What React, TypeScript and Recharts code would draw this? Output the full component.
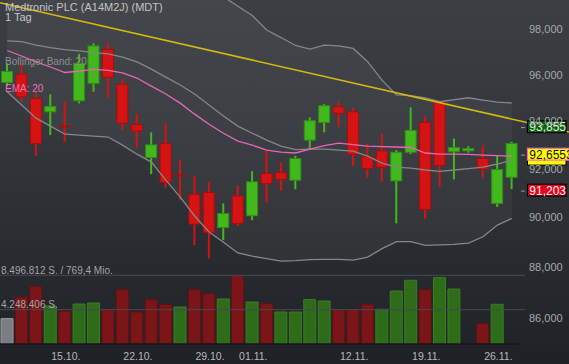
import React from 'react';
import { ComposedChart, Bar, Line, Area, XAxis, YAxis, ReferenceLine, Cell } from 'recharts';

const FONT = '"Liberation Sans", Arial, sans-serif';

const dates = ['09.10.','10.10.','11.10.','12.10.','15.10.','16.10.','17.10.','18.10.','19.10.','22.10.','23.10.','24.10.','25.10.','26.10.','29.10.','30.10.','31.10.','01.11.','02.11.','05.11.','06.11.','07.11.','08.11.','09.11.','12.11.','13.11.','14.11.','15.11.','16.11.','19.11.','20.11.','21.11.','22.11.','23.11.','26.11.','27.11.'];

const opens = [95.66,96.02,94.97,94.40,93.80,94.87,95.62,97.10,95.58,93.86,92.47,93.06,91.74,90.95,91.02,89.59,90.88,90.07,91.81,91.85,91.53,93.20,93.95,94.61,94.40,92.50,92.75,91.50,92.69,93.95,94.80,92.71,92.75,92.43,90.57,91.65];
const highs = [96.49,96.49,95.26,95.15,94.83,96.90,97.37,97.41,95.79,94.33,93.53,93.91,92.39,91.69,91.46,90.57,91.32,91.90,92.78,92.27,92.54,94.16,94.73,94.83,94.57,93.06,93.48,92.78,94.59,94.22,94.87,93.27,92.95,92.99,92.57,93.13];
const lows = [95.50,94.83,92.53,93.41,93.13,94.76,95.26,94.97,93.62,92.89,91.78,91.19,90.71,88.88,88.35,89.08,89.65,89.89,90.60,91.09,91.15,92.85,93.53,93.76,92.12,91.64,91.46,89.76,92.61,89.94,91.25,91.56,92.67,91.64,90.43,91.16];
const closes = [96.14,95.04,93.06,94.63,93.76,96.49,97.25,95.88,93.91,93.58,93.00,91.44,91.71,89.73,89.39,90.16,89.76,91.46,91.39,91.56,92.43,94.02,94.66,94.33,92.60,92.01,92.06,92.69,93.61,90.33,92.14,92.89,92.85,91.99,91.97,93.06];

const volumes = [3140000,5810000,7140000,4700000,4040000,4950000,5070000,4250000,6730000,3960000,5490000,4870000,4580000,6730000,6230000,5570000,8496812,5190000,5000000,3960000,3960000,5490000,5320000,4250000,4250000,4910000,4290000,6560000,7880000,6730000,8210000,6800000,null,2520000,4910000,null];
const volumeDir = ['n','d','d','u','d','u','u','d','d','d','d','d','u','d','d','u','d','u','d','u','u','u','u','d','d','d','u','u','u','d','u','u','n','d','u','n'];

const bbUpper = [99.68,100.19,100.45,100.57,100.73,100.65,100.55,100.47,100.53,100.49,100.2,100.25,100.27,100.26,99.97,99.44,99.01,98.60,97.95,97.62,97.27,97.11,97.29,97.25,97.14,96.56,95.76,95.12,95.09,94.99,94.83,94.92,95.00,94.90,94.81,94.78];
const bbMiddle = [97.47,97.44,97.29,97.18,97.09,97.03,96.96,96.90,96.76,96.55,96.24,95.89,95.55,95.16,94.69,94.22,93.79,93.49,93.20,92.95,92.80,92.82,92.82,92.78,92.74,92.53,92.24,92.07,92.03,91.95,91.89,91.95,92.01,92.07,92.20,92.36];
const bbLower = [95.26,94.69,94.13,93.79,93.45,93.41,93.37,93.33,92.99,92.61,92.28,91.53,90.83,90.06,89.41,89.00,88.57,88.44,88.34,88.24,88.26,88.30,88.31,88.31,88.28,88.40,88.74,89.02,89.02,88.87,88.89,88.91,88.96,89.22,89.69,89.96];
const ema20 = [97.05,96.81,96.55,96.33,96.09,96.15,96.23,96.18,96.07,95.85,95.50,95.16,94.77,94.30,93.87,93.49,93.16,92.99,92.78,92.70,92.66,92.82,92.97,93.07,93.01,92.95,92.93,92.91,92.89,92.66,92.61,92.61,92.60,92.57,92.55,92.53];

const priceTicks = [86, 88, 90, 92, 94, 96, 98];
const dateTicks = [4, 9, 14, 17, 24, 29, 34];
const trendStart = { x: -0.5, y: 99.17 };
const trendEnd = { x: 38.97, y: 93.54 };
const volumeMax = 8496812;
const volumeHalf = 4248406;
const tagTrend = 93.855;
const tagEma = 92.6553;
const tagLast = 91.203;

const data = dates.map((d, i) => ({
  i,
  date: d,
  open: opens[i],
  high: highs[i],
  low: lows[i],
  close: closes[i],
  range: [lows[i], highs[i]],
  vol: volumes[i],
  dir: volumeDir[i],
  upper: bbUpper[i],
  middle: bbMiddle[i],
  lower: bbLower[i],
  band: [bbLower[i], bbUpper[i]],
  ema: ema20[i],
}));

const Candle = (props: any) => {
  const { x, y, width, height, payload } = props;
  if (!payload || x == null || y == null) return null;
  const top0 = Math.min(y, y + height);
  const h = Math.abs(height);
  const { open, close, high, low } = payload;
  const up = close >= open;
  const lnH = Math.log(high);
  const lnL = Math.log(low);
  const py = (v: number) => top0 + (h * (lnH - Math.log(v))) / (lnH - lnL);
  const cx = x + width / 2;
  const bt = py(Math.max(open, close));
  const bb = py(Math.min(open, close));
  const fill = up ? '#42b81c' : '#d51313';
  const stroke = up ? '#2f8d14' : '#a50e0e';
  return (
    <g>
      <line x1={cx} x2={cx} y1={top0} y2={top0 + h} stroke={fill} strokeWidth={2} />
      <rect x={x + 0.5} y={bt} width={width - 1} height={Math.max(bb - bt, 1)} fill={fill} stroke={stroke} strokeWidth={1} />
    </g>
  );
};

const PriceTick = (props: any) => {
  const { y, payload } = props;
  return (
    <text x={529} y={y} dy="0.36em" fontSize={11} fill="#a8a8a8" fontFamily={FONT}>
      {Number(payload.value).toFixed(3).replace('.', ',')}
    </text>
  );
};

const DateTick = (props: any) => {
  const { x, payload } = props;
  return (
    <text x={x + 1} y={360} textAnchor="middle" fontSize={10.5} fill="#b8b8b8" fontFamily={FONT}>
      {dates[payload.value]}
    </text>
  );
};

const PriceTag = (props: any) => {
  const { viewBox, text, fill, border, color, width, extra, dyBox } = props;
  if (!viewBox) return null;
  const cy = viewBox.y + (dyBox || 0);
  return (
    <g>
      <line x1={521} x2={525} y1={cy + 1} y2={cy + 1} stroke="#9a9a9a" strokeWidth={1} />
      {extra ? <rect x={527.5} y={cy - 1} width={38.5} height={12} fill="#ffff00" stroke="#000" strokeWidth={1} /> : null}
      <rect x={527.5} y={cy - 5.8} width={width} height={11.8} fill={fill} stroke={border} strokeWidth={1.2} />
      <text x={529.3} y={cy} dy="0.37em" fontSize={12} fill={color} fontFamily={FONT}>{text}</text>
    </g>
  );
};

export default function App() {
  return (
    <div
      style={{
        position: 'absolute',
        left: 0,
        top: 0,
        width: 569,
        height: 364,
        overflow: 'hidden',
        background: 'linear-gradient(180deg, #3b3e43 0%, #34373c 35%, #282b2f 70%, #1e2125 100%)',
        fontFamily: FONT,
      }}
    >
      <ComposedChart width={569} height={364} data={data} margin={{ top: 0, right: 0, bottom: 0, left: 0 }}>
        <XAxis
          xAxisId="x"
          dataKey="i"
          type="number"
          domain={[-0.5, 35.5]}
          allowDataOverflow
          ticks={dateTicks}
          interval={0}
          height={20}
          axisLine={false}
          tickLine={false}
          tick={<DateTick />}
        />
        <XAxis xAxisId="c" dataKey="i" type="number" domain={[-0.5, 35.5]} allowDataOverflow hide />
        <YAxis
          yAxisId="p"
          orientation="right"
          type="number"
          scale="log"
          domain={[85, 99.29]}
          allowDataOverflow
          ticks={priceTicks}
          interval={0}
          width={50}
          axisLine={false}
          tickLine={false}
          tick={<PriceTick />}
        />
        <YAxis yAxisId="v" type="number" domain={[0, 42550000]} allowDataOverflow hide />

        <Area
          xAxisId="x"
          yAxisId="p"
          dataKey="band"
          type="linear"
          stroke="none"
          fill="#ffffff"
          fillOpacity={0.045}
          isAnimationActive={false}
          dot={false}
          activeDot={false}
        />

        <ReferenceLine
          xAxisId="x"
          yAxisId="v"
          segment={[{ x: -0.5, y: volumeMax }, { x: 35.92, y: volumeMax }]}
          stroke="#474a50"
          strokeWidth={1}
          ifOverflow="visible"
        />
        <ReferenceLine
          xAxisId="x"
          yAxisId="v"
          segment={[{ x: -0.5, y: volumeHalf }, { x: 35.92, y: volumeHalf }]}
          stroke="#474a50"
          strokeWidth={1}
          ifOverflow="visible"
        />

        <Bar xAxisId="x" yAxisId="v" dataKey="vol" barSize={12} isAnimationActive={false}>
          {data.map((d, i) => (
            <Cell
              key={i}
              fill={d.dir === 'u' ? '#2e6c19' : d.dir === 'd' ? '#7c1518' : '#7b7d80'}
              stroke={d.dir === 'u' ? '#3a7e22' : d.dir === 'd' ? '#651113' : '#9a9ca0'}
              strokeWidth={1}
            />
          ))}
        </Bar>

        <ReferenceLine xAxisId="x" yAxisId="v" y={0} stroke="#15171a" strokeWidth={1.5} />

        <Line xAxisId="x" yAxisId="p" dataKey="upper" stroke="#868686" strokeWidth={1.3} dot={false} activeDot={false} isAnimationActive={false} />
        <Line xAxisId="x" yAxisId="p" dataKey="middle" stroke="#868686" strokeWidth={1.3} dot={false} activeDot={false} isAnimationActive={false} />
        <Line xAxisId="x" yAxisId="p" dataKey="lower" stroke="#868686" strokeWidth={1.3} dot={false} activeDot={false} isAnimationActive={false} />
        <Line xAxisId="x" yAxisId="p" dataKey="ema" stroke="#ea66b2" strokeWidth={1.3} dot={false} activeDot={false} isAnimationActive={false} />

        <Bar xAxisId="c" yAxisId="p" dataKey="range" barSize={12} shape={<Candle />} isAnimationActive={false} />

        <ReferenceLine
          xAxisId="x"
          yAxisId="p"
          segment={[trendStart, trendEnd]}
          stroke="#d9b80e"
          strokeWidth={1.5}
          ifOverflow="visible"
        />

        <ReferenceLine
          xAxisId="x"
          yAxisId="p"
          y={tagTrend}
          stroke="none"
          label={<PriceTag text="93,855" fill="#0b620b" border="#000" color="#ececec" width={38.5} dyBox={2} />}
        />
        <ReferenceLine
          xAxisId="x"
          yAxisId="p"
          y={tagEma}
          stroke="none"
          label={<PriceTag text="92,6553" fill="#ffff00" border="#ff66cc" color="#111" width={41.5} extra dyBox={1} />}
        />
        <ReferenceLine
          xAxisId="x"
          yAxisId="p"
          y={tagLast}
          stroke="none"
          label={<PriceTag text="91,203" fill="#e6001c" border="#000" color="#f4f4f4" width={38.5} dyBox={2} />}
        />
      </ComposedChart>

      <svg width={569} height={364} style={{ position: 'absolute', left: 0, top: 0, pointerEvents: 'none' }}>
        <text x={5} y={10.5} fontSize={11} fill="#c4c4c4" fontFamily={FONT}>Medtronic PLC (A14M2J) (MDT)</text>
        <text x={5} y={20.5} fontSize={11} fill="#c4c4c4" fontFamily={FONT}>1 Tag</text>
        <text x={5} y={64.5} fontSize={10} fill="#8e8e8e" fontFamily={FONT}>Bollinger Band: 20</text>
        <text x={5} y={92} fontSize={10} fill="#ee6fb8" fontFamily={FONT}>EMA: 20</text>
        <text x={1} y={273.5} fontSize={10} fill="#a4a4a4" fontFamily={FONT}>8.496.812 S. / 769,4 Mio.</text>
        <text x={1} y={308} fontSize={10} fill="#a4a4a4" fontFamily={FONT}>4.248.406 S.</text>
      </svg>
    </div>
  );
}
